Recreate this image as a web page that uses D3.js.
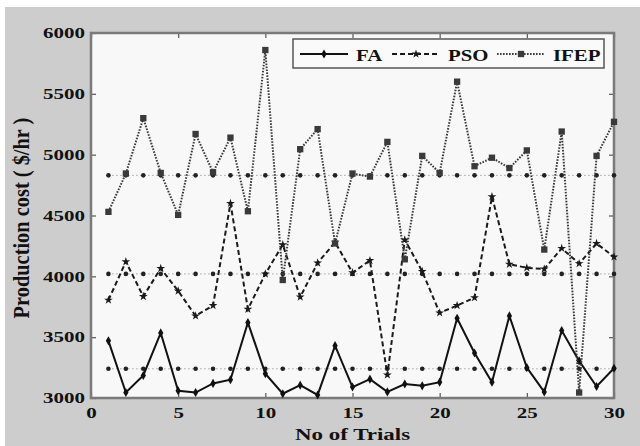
<!DOCTYPE html>
<html>
<head>
<meta charset="utf-8">
<script src="https://cdn.jsdelivr.net/npm/d3@7"></script>
<style>
  body { margin: 0; background: #fff; }
  svg text { font-family: "Liberation Serif", "Times New Roman", serif; font-weight: bold; fill: #111; }
</style>
</head>
<body>
<script>
// trials and production cost per run ($/hr)
const trials = d3.range(1, 31);
const faCost = [3470, 3045, 3185, 3535, 3060, 3045, 3120, 3150, 3620, 3200,
                3035, 3105, 3025, 3430, 3090, 3155, 3050, 3115, 3100, 3130,
                3655, 3370, 3130, 3675, 3250, 3050, 3555, 3305, 3095, 3245];
const psoCost = [3805, 4120, 3835, 4065, 3880, 3675, 3760, 4600, 3730, 4020,
                 4260, 3830, 4110, 4280, 4030, 4130, 3190, 4300, 4040, 3700,
                 3760, 3825, 4655, 4100, 4070, 4060, 4230, 4105, 4270, 4160];
const ifepCost = [4530, 4845, 5300, 4850, 4505, 5170, 4855, 5140, 4535, 5860,
                  3970, 5045, 5210, 4270, 4845, 4820, 5105, 4140, 4990, 4850,
                  5600, 4905, 4975, 4890, 5035, 4220, 5190, 3045, 4990, 5270];
// average levels drawn as dotted reference lines
const meanLevels = [3240, 4020, 4830];
const seriesNames = ["FA", "PSO", "IFEP"];
const xTicks = [0, 5, 10, 15, 20, 25, 30];
const yTicks = [3000, 3500, 4000, 4500, 5000, 5500, 6000];

const width = 640, height = 446;
const plotL = 91, plotR = 614, plotT = 33, plotB = 398;
const sx = 1.4; // the picture is stretched sideways

const svg = d3.select("body").append("svg")
    .attr("width", width)
    .attr("height", height);

svg.append("rect").attr("x", 5).attr("y", 7)
    .attr("width", width - 5).attr("height", height - 7)
    .attr("fill", "#cdcdcd");
svg.append("rect").attr("x", plotL).attr("y", plotT)
    .attr("width", plotR - plotL).attr("height", plotB - plotT)
    .attr("fill", "#f8f8f8");

const x = d3.scaleLinear().domain([0, 30]).range([plotL, plotR]);
const y = d3.scaleLinear().domain([3000, 6000]).range([plotB, plotT]);

// axes, ticks inward
const xAxis = svg.append("g").attr("transform", `translate(0,${plotB})`)
    .call(d3.axisBottom(x).tickValues(xTicks).tickFormat(d3.format("d"))
      .tickSizeInner(-5).tickSizeOuter(0).tickPadding(9));
const yAxis = svg.append("g").attr("transform", `translate(${plotL},0)`)
    .call(d3.axisLeft(y).tickValues(yTicks).tickFormat(d3.format("d"))
      .tickSizeInner(-5).tickSizeOuter(0));
svg.append("g").attr("transform", `translate(0,${plotT})`)
    .call(d3.axisTop(x).tickValues(xTicks).tickSizeInner(-5).tickSizeOuter(0).tickFormat(""));
svg.append("g").attr("transform", `translate(${plotR},0)`)
    .call(d3.axisRight(y).tickValues(yTicks).tickSizeInner(-5).tickSizeOuter(0).tickFormat(""));

svg.selectAll(".domain").remove();
svg.selectAll(".tick line").attr("stroke", "#555").attr("stroke-width", 1.2);
xAxis.attr("font-family", null);
yAxis.attr("font-family", null);
xAxis.selectAll("text").attr("font-size", 15).attr("transform", `scale(${sx},1)`);
yAxis.selectAll("text").attr("font-size", 15).attr("x", -4.3)
    .attr("transform", `scale(${sx},1)`);
svg.selectAll(".tick text").attr("fill", "#111");

svg.append("rect").attr("x", plotL).attr("y", plotT)
    .attr("width", plotR - plotL).attr("height", plotB - plotT)
    .attr("fill", "none").attr("stroke", "#7a7a7a").attr("stroke-width", 2.5);

// mean reference lines
meanLevels.forEach(m => {
  svg.append("line")
      .attr("x1", x(1)).attr("x2", x(30)).attr("y1", y(m)).attr("y2", y(m))
      .attr("stroke", "#777").attr("stroke-width", 1).attr("stroke-dasharray", "1,3");
  svg.append("g").selectAll("circle").data(trials).join("circle")
      .attr("cx", d => x(d)).attr("cy", y(m)).attr("r", 2.3).attr("fill", "#222");
});

const line = d3.line().x((d, i) => x(trials[i])).y(d => y(d));

const star = d3.symbol().type(d3.symbolStar).size(24);
const diamond = d3.symbol().type(d3.symbolDiamond).size(24);
const square = d3.symbol().type(d3.symbolSquare).size(40);

const styles = [
  { data: faCost, dash: null, width: 2, color: "#111", sym: diamond },
  { data: psoCost, dash: "5,3", width: 2, color: "#1a1a1a", sym: star },
  { data: ifepCost, dash: "1.6,1.4", width: 2, color: "#3a3a3a", sym: square }
];

styles.forEach(s => {
  svg.append("path").datum(s.data)
      .attr("d", line).attr("fill", "none")
      .attr("stroke", s.color).attr("stroke-width", s.width)
      .attr("stroke-dasharray", s.dash);
  svg.append("g").selectAll("path").data(s.data).join("path")
      .attr("d", s.sym)
      .attr("transform", (d, i) => `translate(${x(trials[i])},${y(d)})`)
      .attr("fill", s.color);
});

// legend
const lg = svg.append("g");
lg.append("rect").attr("x", 293).attr("y", 39).attr("width", 311).attr("height", 29)
    .attr("fill", "#fafafa").attr("stroke", "#555").attr("stroke-width", 1.5);
const legendX = [300, 392, 497];
styles.forEach((s, i) => {
  const lx = legendX[i];
  lg.append("line").attr("x1", lx).attr("x2", lx + 48).attr("y1", 54).attr("y2", 54)
      .attr("stroke", s.color).attr("stroke-width", s.width).attr("stroke-dasharray", s.dash);
  lg.append("path").attr("d", s.sym).attr("transform", `translate(${lx + 24},54)`)
      .attr("fill", s.color);
  lg.append("text").attr("transform", `translate(${lx + 56},61) scale(1.3,1)`)
      .attr("font-size", 16).text(seriesNames[i]);
});

// axis titles
svg.append("text")
    .attr("transform", `translate(${(plotL + plotR) / 2},440) scale(1.35,1)`)
    .attr("text-anchor", "middle").attr("font-size", 17)
    .text("No of Trials");
svg.append("text")
    .attr("transform", `translate(29,218) rotate(-90) scale(1.2,1.3)`)
    .attr("text-anchor", "middle").attr("font-size", 17)
    .text("Production cost ( $/hr )");
</script>
</body>
</html>
